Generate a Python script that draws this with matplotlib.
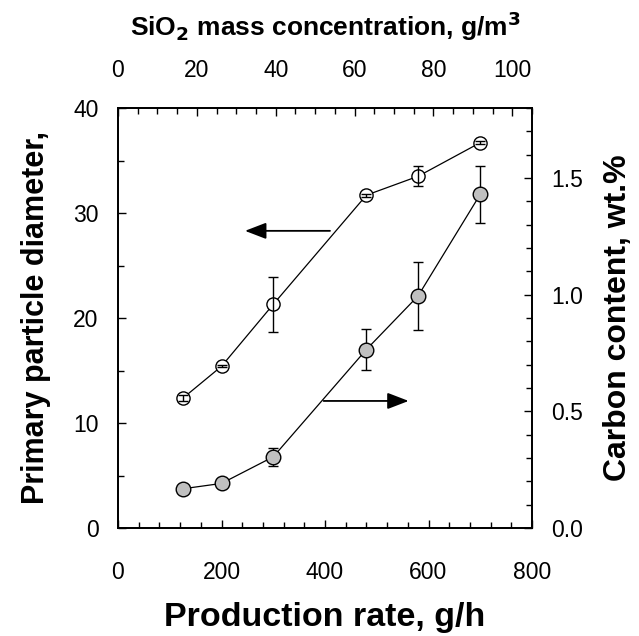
import matplotlib
matplotlib.use("Agg")
import matplotlib.pyplot as plt
from matplotlib.ticker import MultipleLocator, FormatStrFormatter

plt.rcParams['font.family'] = ['Liberation Sans', 'DejaVu Sans']

# Data
rate = [125, 200, 300, 480, 580, 700]
diameter = [12.35, 15.4, 21.3, 31.7, 33.5, 36.7]
diameter_err = [0.3, 0.1, 2.6, 0.15, 0.95, 0.15]
carbon = [0.168, 0.191, 0.305, 0.765, 0.995, 1.43]
carbon_err = [0.0, 0.0, 0.04, 0.089, 0.146, 0.123]

fig = plt.figure(figsize=(6.39, 6.36), dpi=100)
ax = fig.add_axes([118/639, 108/636, 414/639, 420/636])
ax2 = ax.twinx()
ax3 = ax.twiny()

lw = 1.1
# open circles (left axis), error bars drawn over the markers
ax.plot(rate, diameter, '-o', color='black', lw=0.9, mfc='white', mec='black',
        ms=9.5, mew=1.0, zorder=3)
ax.errorbar(rate, diameter, yerr=diameter_err, fmt='none', ecolor='black',
            elinewidth=1.0, capsize=3.5, capthick=1.0, zorder=4)
# filled circles (right axis)
ax2.errorbar(rate, carbon, yerr=carbon_err, fmt='none', ecolor='black',
             elinewidth=1.0, capsize=3.5, capthick=1.0, zorder=2)
ax2.plot(rate, carbon, '-o', color='black', lw=0.9, mfc='#c0c0c0', mec='black',
         ms=10.5, mew=1.0, zorder=3)

ax.set_xlim(0, 800)
ax.set_ylim(0, 40)
ax2.set_ylim(0, 1.8)
ax3.set_xlim(0, 105)

ax.xaxis.set_major_locator(MultipleLocator(200))
ax.xaxis.set_minor_locator(MultipleLocator(40))
ax.yaxis.set_major_locator(MultipleLocator(10))
ax.yaxis.set_minor_locator(MultipleLocator(5))
ax2.yaxis.set_major_locator(MultipleLocator(0.5))
ax2.yaxis.set_minor_locator(MultipleLocator(0.1))
ax2.yaxis.set_major_formatter(FormatStrFormatter('%.1f'))
ax3.set_xticks([0, 20, 40, 60, 80, 100])
ax3.xaxis.set_minor_locator(MultipleLocator(5))

for a in (ax, ax2, ax3):
    a.tick_params(which='both', direction='in', width=1.0, labelsize=16.5)
    a.tick_params(which='major', length=5.5)
    a.tick_params(which='minor', length=4)
    for s in a.spines.values():
        s.set_linewidth(lw)
ax.tick_params(axis='y', which='both', right=False, pad=14)
ax.tick_params(axis='x', which='both', top=False, pad=24)
ax2.tick_params(axis='y', pad=14)
ax3.tick_params(axis='x', pad=19)

# Arrows
ap = dict(arrowstyle='-|>,head_length=1.3,head_width=0.5', color='black', lw=1.3)
ax.annotate('', xy=(240, 28.3), xytext=(415, 28.3), arrowprops=ap)
ax.annotate('', xy=(567, 12.1), xytext=(392, 12.1), arrowprops=ap)

ax.set_xlabel('Production rate, g/h', fontsize=24.5, fontweight='bold')
ax.xaxis.set_label_coords(0.5, -0.212)
ax.xaxis.label.set_va('center')

ax.set_ylabel('Primary particle diameter,', fontsize=22, fontweight='bold')
ax.yaxis.set_label_coords(-0.198, 0.5)
ax.yaxis.label.set_va('center')

ax2.set_ylabel('Carbon content, wt.%', fontsize=23, fontweight='bold')
ax2.yaxis.set_label_coords(1.208, 0.5)
ax2.yaxis.label.set_va('center')

ax3.set_xlabel('SiO$_\\mathbf{2}$ mass concentration, g/m$^\\mathbf{3}$', fontsize=19, fontweight='bold')
ax3.xaxis.set_label_coords(0.5, 1.195)
ax3.xaxis.label.set_va('center')

fig.savefig('out.png', dpi=100)
